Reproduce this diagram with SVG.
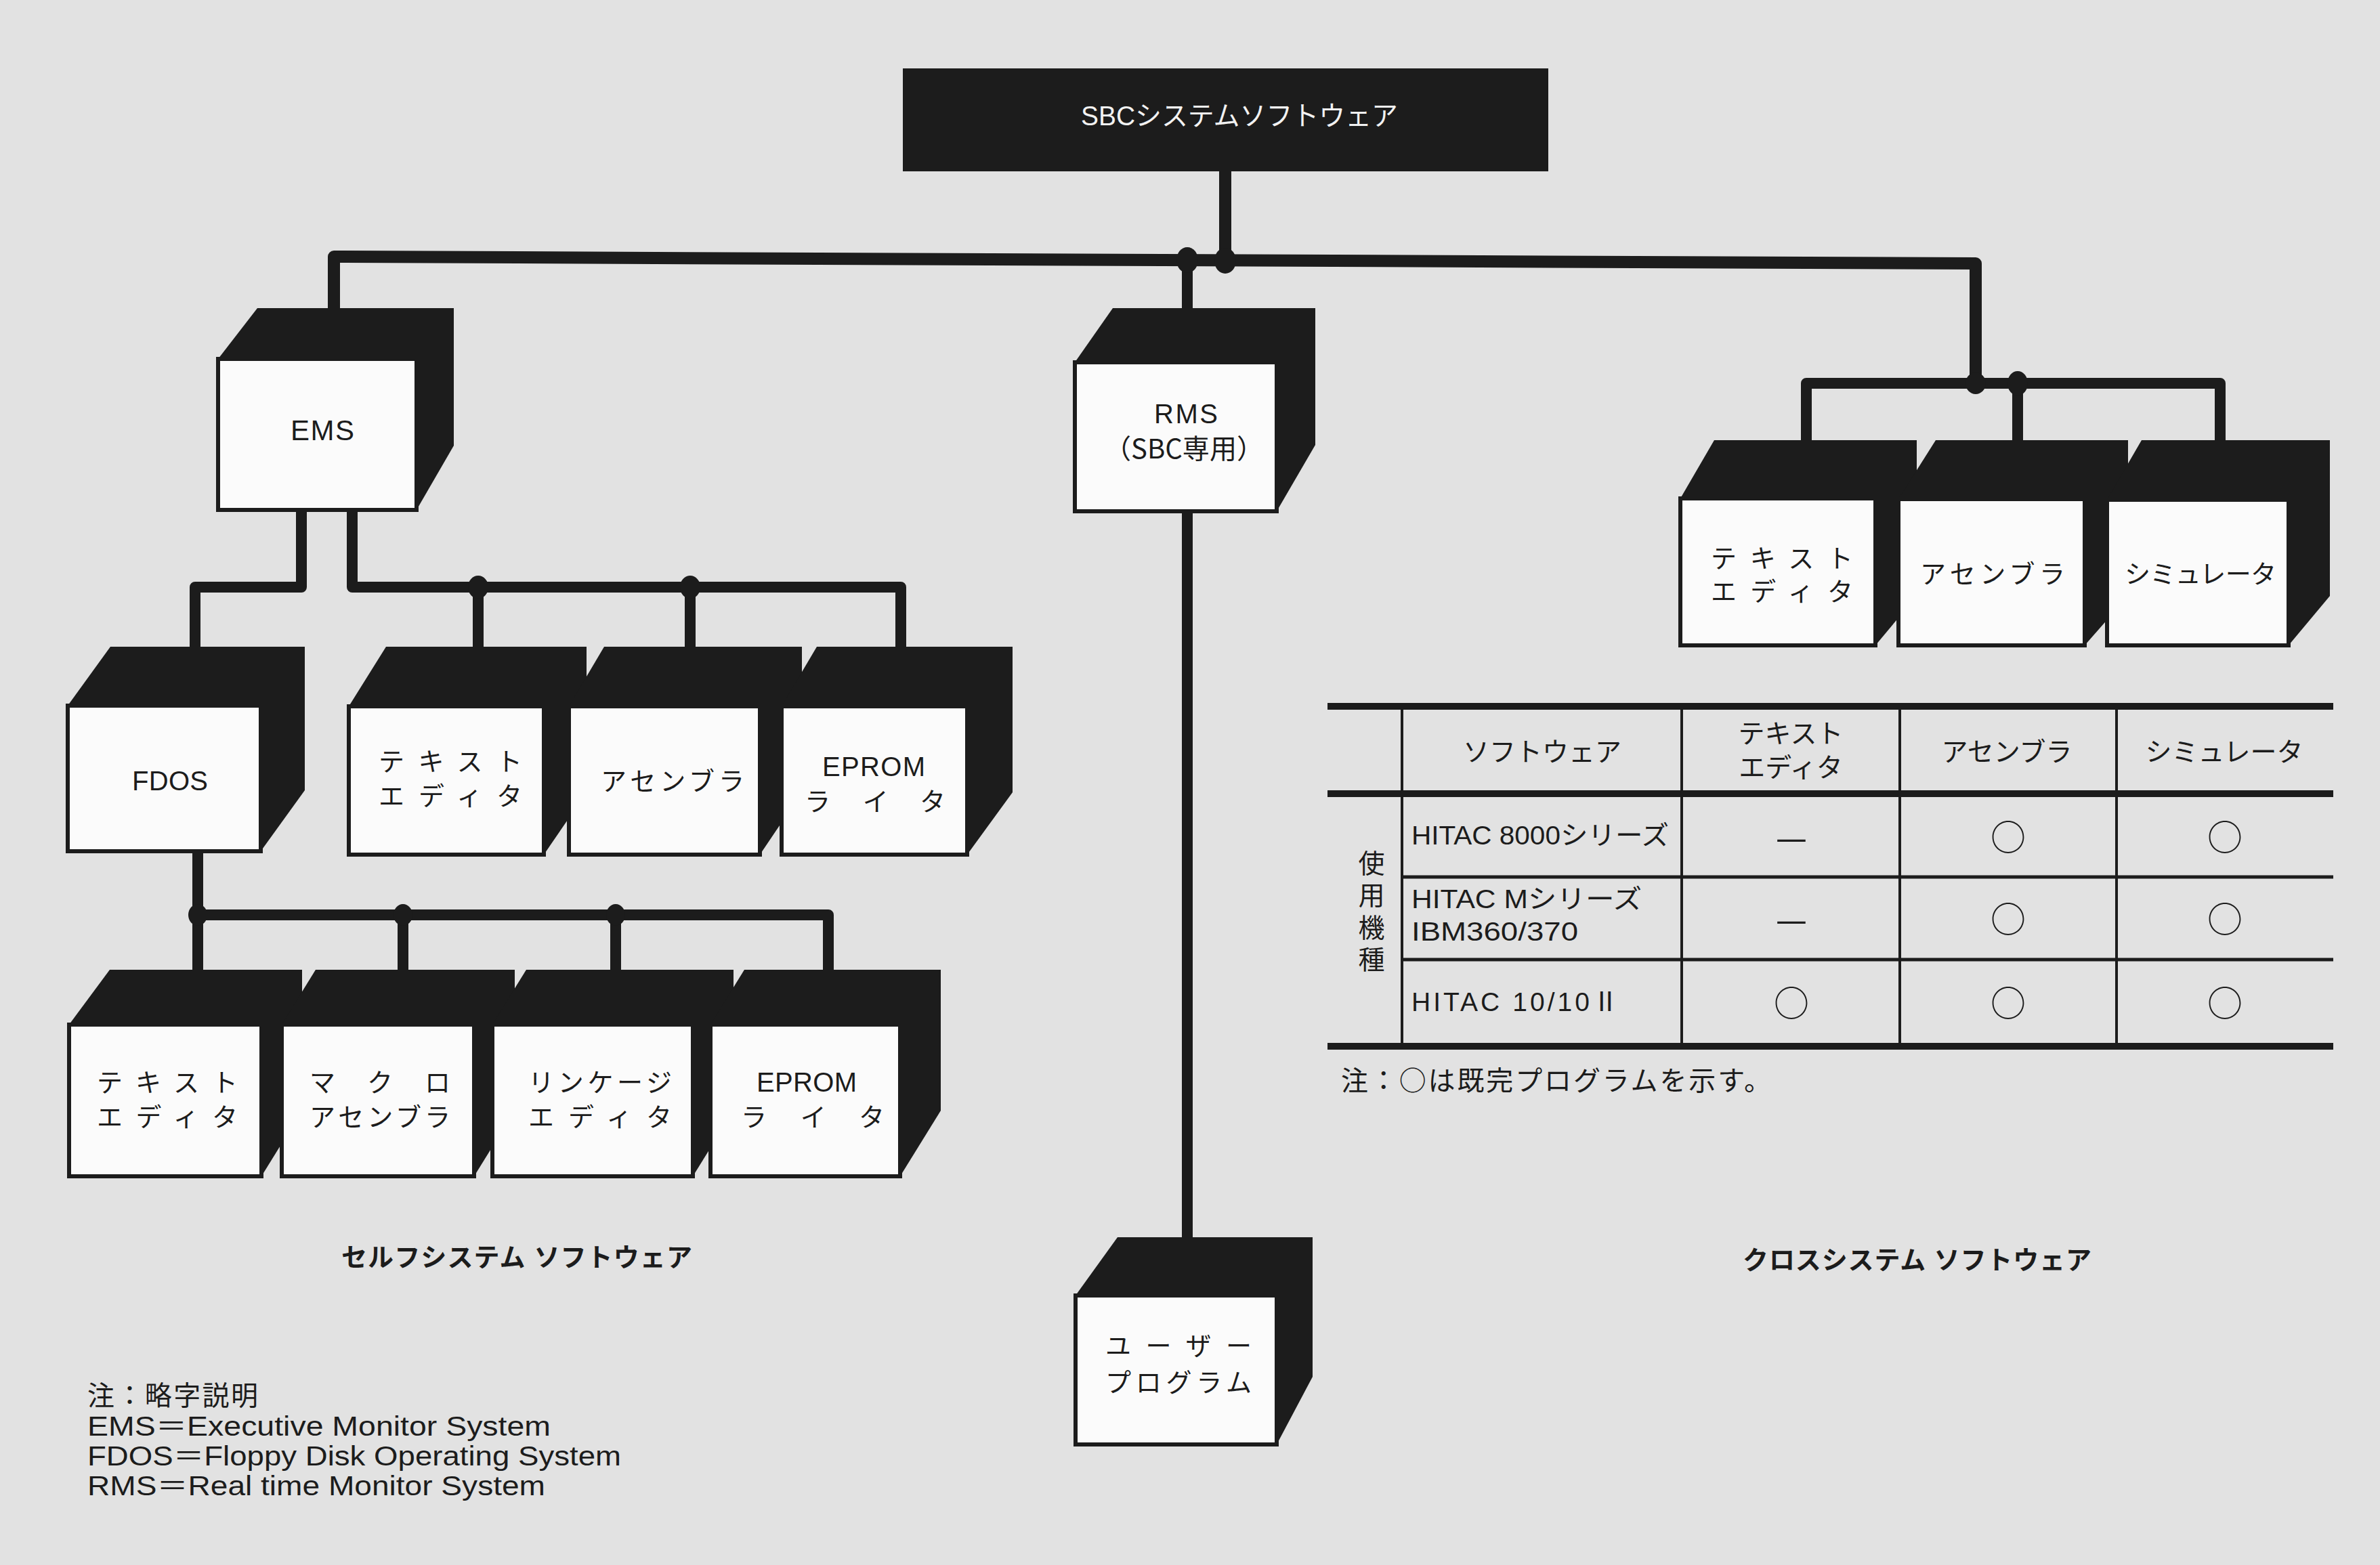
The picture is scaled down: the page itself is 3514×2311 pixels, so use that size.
<svg xmlns="http://www.w3.org/2000/svg" width="3514" height="2311" viewBox="0 0 3514 2311">
<style>
.bg{fill:#e2e2e2}
.blk{fill:#1c1c1c}
.front{fill:#fbfbfb;stroke:#1c1c1c;stroke-width:6}
.conn{fill:none;stroke:#1c1c1c;stroke-width:16;stroke-linejoin:round}
.dot{fill:#1c1c1c}
text{font-family:"Liberation Sans","Noto Sans CJK JP",sans-serif;fill:#1c1c1c}
.jp{font-family:"Noto Sans CJK JP",sans-serif}
.lbl{font-size:40px}
.kana{font-size:38px}
.cap{font-size:38px;font-weight:bold}
.note{font-size:40px}
.tbl{font-size:39px}
.sym{font-size:52px;font-family:"Noto Sans CJK JP",sans-serif}
.tline{stroke:#1c1c1c;fill:none}
</style>
<rect class="bg" x="0" y="0" width="3514" height="2311"/>

<g id="connectors">
  <path class="conn" style="stroke-width:18" d="M493,455 L493,379 L2917,389 L2917,566"/>
  <path class="conn" style="stroke-width:18" d="M1809,250 L1809,384"/>
  <path class="conn" d="M1753,383 L1753,1830"/>
  <path class="conn" d="M2667,652 L2667,566 L3278,566 L3278,652"/>
  <path class="conn" d="M2979,566 L2979,652"/>
  <path class="conn" d="M445,750 L445,867 L288,867 L288,957"/>
  <path class="conn" d="M520,750 L520,867 L1330,867 L1330,957"/>
  <path class="conn" d="M706,867 L706,957"/>
  <path class="conn" d="M1019,867 L1019,957"/>
  <path class="conn" d="M292,1255 L292,1434"/>
  <path class="conn" d="M292,1351 L1223,1351 L1223,1434"/>
  <path class="conn" d="M595,1351 L595,1434"/>
  <path class="conn" d="M909,1351 L909,1434"/>
  <ellipse class="dot" cx="1753" cy="384" rx="16" ry="19"/>
  <ellipse class="dot" cx="1809" cy="385" rx="16" ry="19"/>
  <ellipse class="dot" cx="2917" cy="566" rx="15" ry="16"/>
  <ellipse class="dot" cx="2979" cy="566" rx="15" ry="18"/>
  <ellipse class="dot" cx="706" cy="867" rx="15" ry="17"/>
  <ellipse class="dot" cx="1019" cy="867" rx="15" ry="17"/>
  <ellipse class="dot" cx="292" cy="1351" rx="14" ry="16"/>
  <ellipse class="dot" cx="595" cy="1351" rx="14" ry="16"/>
  <ellipse class="dot" cx="909" cy="1351" rx="14" ry="16"/>
</g>

<g id="n-sbc">
  <rect class="blk" x="1333" y="101" width="953" height="152"/>
  <text class="lbl" x="1830" y="185" text-anchor="middle" style="fill:#f2f2f2" textLength="468" lengthAdjust="spacingAndGlyphs">SBCシステムソフトウェア</text>
</g>

<g id="n-ems">
  <polygon class="blk" points="322,530 380,455 670,455 670,658 615,753 322,753"/>
  <rect class="front" x="322" y="530" width="293" height="223"/>
  <text class="lbl" x="476" y="650" text-anchor="middle" style="font-size:42px" textLength="94" lengthAdjust="spacing">EMS</text>
</g>

<g id="n-rms">
  <polygon class="blk" points="1587,535 1643,455 1942,455 1942,657 1885,755 1587,755"/>
  <rect class="front" x="1587" y="535" width="298" height="220"/>
  <text class="lbl" x="1751" y="625" text-anchor="middle" textLength="94" lengthAdjust="spacing">RMS</text>
  <text class="lbl jp" x="1748" y="677" text-anchor="middle" textLength="236" lengthAdjust="spacingAndGlyphs">（SBC専用）</text>
</g>

<g id="n-user">
  <polygon class="blk" points="1588,1913 1650,1827 1938,1827 1938,2033 1885,2133 1588,2133"/>
  <rect class="front" x="1588" y="1913" width="297" height="220"/>
  <text class="kana" x="1632" y="2001" textLength="216" lengthAdjust="spacing">ユーザー</text>
  <text class="kana" x="1632" y="2055" textLength="216" lengthAdjust="spacing">プログラム</text>
</g>

<g id="n-fdos">
  <polygon class="blk" points="100,1042 163,955 450,955 450,1167 385,1257 100,1257"/>
  <rect class="front" x="100" y="1042" width="285" height="215"/>
  <text class="lbl" x="251" y="1167" text-anchor="middle" textLength="112" lengthAdjust="spacing">FDOS</text>
</g>

<g id="n-self-te">
  <polygon class="blk" points="515,1043 570,955 866,955 866,1170 803,1262 515,1262"/>
  <rect class="front" x="515" y="1043" width="288" height="219"/>
  <text class="kana" x="559" y="1138" textLength="212" lengthAdjust="spacing">テキスト</text>
  <text class="kana" x="559" y="1189" textLength="212" lengthAdjust="spacing">エディタ</text>
</g>

<g id="n-self-asm">
  <polygon class="blk" points="840,1043 892,955 1184,955 1184,1170 1122,1262 840,1262"/>
  <rect class="front" x="840" y="1043" width="282" height="219"/>
  <text class="kana" x="887" y="1167" textLength="212" lengthAdjust="spacing">アセンブラ</text>
</g>

<g id="n-self-eprom">
  <polygon class="blk" points="1154,1043 1206,955 1495,955 1495,1170 1428,1262 1154,1262"/>
  <rect class="front" x="1154" y="1043" width="274" height="219"/>
  <text class="lbl" x="1290" y="1146" text-anchor="middle" textLength="152" lengthAdjust="spacing">EPROM</text>
  <text class="kana" x="1188" y="1197" textLength="208" lengthAdjust="spacing">ライタ</text>
</g>

<g id="n-fd-te">
  <polygon class="blk" points="102,1513 162,1432 446,1432 446,1640 386,1737 102,1737"/>
  <rect class="front" x="102" y="1513" width="284" height="224"/>
  <text class="kana" x="143" y="1612" textLength="208" lengthAdjust="spacing">テキスト</text>
  <text class="kana" x="143" y="1663" textLength="208" lengthAdjust="spacing">エディタ</text>
</g>

<g id="n-fd-macro">
  <polygon class="blk" points="416,1513 466,1432 760,1432 760,1640 700,1737 416,1737"/>
  <rect class="front" x="416" y="1513" width="284" height="224"/>
  <text class="kana" x="457" y="1612" textLength="208" lengthAdjust="spacing">マクロ</text>
  <text class="kana" x="457" y="1663" textLength="208" lengthAdjust="spacing">アセンブラ</text>
</g>

<g id="n-fd-link">
  <polygon class="blk" points="727,1513 777,1432 1083,1432 1083,1640 1023,1737 727,1737"/>
  <rect class="front" x="727" y="1513" width="296" height="224"/>
  <text class="kana" x="780" y="1612" textLength="212" lengthAdjust="spacing">リンケージ</text>
  <text class="kana" x="780" y="1663" textLength="212" lengthAdjust="spacing">エディタ</text>
</g>

<g id="n-fd-eprom">
  <polygon class="blk" points="1049,1513 1099,1432 1389,1432 1389,1640 1329,1737 1049,1737"/>
  <rect class="front" x="1049" y="1513" width="280" height="224"/>
  <text class="lbl" x="1191" y="1612" text-anchor="middle" textLength="148" lengthAdjust="spacing">EPROM</text>
  <text class="kana" x="1094" y="1663" textLength="212" lengthAdjust="spacing">ライタ</text>
</g>

<g id="n-x-te">
  <polygon class="blk" points="2481,736 2531,650 2830,650 2830,880 2769,953 2481,953"/>
  <rect class="front" x="2481" y="736" width="288" height="217"/>
  <text class="kana" x="2526" y="838" textLength="210" lengthAdjust="spacing">テキスト</text>
  <text class="kana" x="2526" y="887" textLength="210" lengthAdjust="spacing">エディタ</text>
</g>

<g id="n-x-asm">
  <polygon class="blk" points="2803,737 2858,650 3142,650 3142,880 3078,953 2803,953"/>
  <rect class="front" x="2803" y="737" width="275" height="216"/>
  <text class="kana" x="2835" y="861" textLength="214" lengthAdjust="spacing">アセンブラ</text>
</g>

<g id="n-x-sim">
  <polygon class="blk" points="3111,738 3162,650 3440,650 3440,880 3379,953 3111,953"/>
  <rect class="front" x="3111" y="738" width="268" height="215"/>
  <text class="kana" x="3137" y="861" textLength="224" lengthAdjust="spacing">シミュレータ</text>
</g>

<g id="captions">
  <text class="cap" x="504" y="1870" textLength="518" lengthAdjust="spacing">セルフシステム ソフトウェア</text>
  <text class="cap" x="2573" y="1874" textLength="515" lengthAdjust="spacing">クロスシステム ソフトウェア</text>
</g>

<g id="legend">
  <text class="note" x="129" y="2075" textLength="252" lengthAdjust="spacing">注：略字説明</text>
  <text class="note" x="129" y="2120" textLength="684" lengthAdjust="spacingAndGlyphs">EMS＝Executive Monitor System</text>
  <text class="note" x="129" y="2164" textLength="788" lengthAdjust="spacingAndGlyphs">FDOS＝Floppy Disk Operating System</text>
  <text class="note" x="129" y="2208" textLength="676" lengthAdjust="spacingAndGlyphs">RMS＝Real time Monitor System</text>
</g>

<g id="table">
  <line class="tline" x1="1960" y1="1043" x2="3445" y2="1043" stroke-width="10"/>
  <line class="tline" x1="1960" y1="1172" x2="3445" y2="1172" stroke-width="10"/>
  <line class="tline" x1="2070" y1="1295" x2="3445" y2="1295" stroke-width="5"/>
  <line class="tline" x1="2070" y1="1417" x2="3445" y2="1417" stroke-width="5"/>
  <line class="tline" x1="1960" y1="1545" x2="3445" y2="1545" stroke-width="10"/>
  <line class="tline" x1="2070" y1="1043" x2="2070" y2="1545" stroke-width="4"/>
  <line class="tline" x1="2483" y1="1043" x2="2483" y2="1545" stroke-width="4"/>
  <line class="tline" x1="2805" y1="1043" x2="2805" y2="1545" stroke-width="4"/>
  <line class="tline" x1="3125" y1="1043" x2="3125" y2="1545" stroke-width="4"/>
  <text class="tbl" x="2277" y="1124" text-anchor="middle">ソフトウェア</text>
  <text class="tbl" x="2644" y="1097" text-anchor="middle">テキスト</text>
  <text class="tbl" x="2644" y="1147" text-anchor="middle">エディタ</text>
  <text class="tbl" x="2963" y="1124" text-anchor="middle">アセンブラ</text>
  <text class="tbl" x="3284" y="1124" text-anchor="middle">シミュレータ</text>
  <text class="tbl" x="2025" y="1289" text-anchor="middle">使</text>
  <text class="tbl" x="2025" y="1336" text-anchor="middle">用</text>
  <text class="tbl" x="2025" y="1384" text-anchor="middle">機</text>
  <text class="tbl" x="2025" y="1431" text-anchor="middle">種</text>
  <text class="tbl" x="2084" y="1247" textLength="380" lengthAdjust="spacingAndGlyphs">HITAC 8000シリーズ</text>
  <text class="tbl" x="2084" y="1341" textLength="340" lengthAdjust="spacingAndGlyphs">HITAC Mシリーズ</text>
  <text class="tbl" x="2084" y="1389" textLength="246" lengthAdjust="spacingAndGlyphs">IBM360/370</text>
  <text class="tbl" x="2084" y="1493" textLength="306" lengthAdjust="spacing">HITAC  10/10Ⅱ</text>
  <text class="sym" x="2645" y="1233" text-anchor="middle" dominant-baseline="central">—</text>
  <text class="sym" x="2965" y="1233" text-anchor="middle" dominant-baseline="central">○</text>
  <text class="sym" x="3285" y="1233" text-anchor="middle" dominant-baseline="central">○</text>
  <text class="sym" x="2645" y="1354" text-anchor="middle" dominant-baseline="central">—</text>
  <text class="sym" x="2965" y="1354" text-anchor="middle" dominant-baseline="central">○</text>
  <text class="sym" x="3285" y="1354" text-anchor="middle" dominant-baseline="central">○</text>
  <text class="sym" x="2645" y="1478" text-anchor="middle" dominant-baseline="central">○</text>
  <text class="sym" x="2965" y="1478" text-anchor="middle" dominant-baseline="central">○</text>
  <text class="sym" x="3285" y="1478" text-anchor="middle" dominant-baseline="central">○</text>
  <text class="lbl jp" x="1980" y="1610" textLength="635" lengthAdjust="spacing">注：○は既完プログラムを示す。</text>
</g>
</svg>
